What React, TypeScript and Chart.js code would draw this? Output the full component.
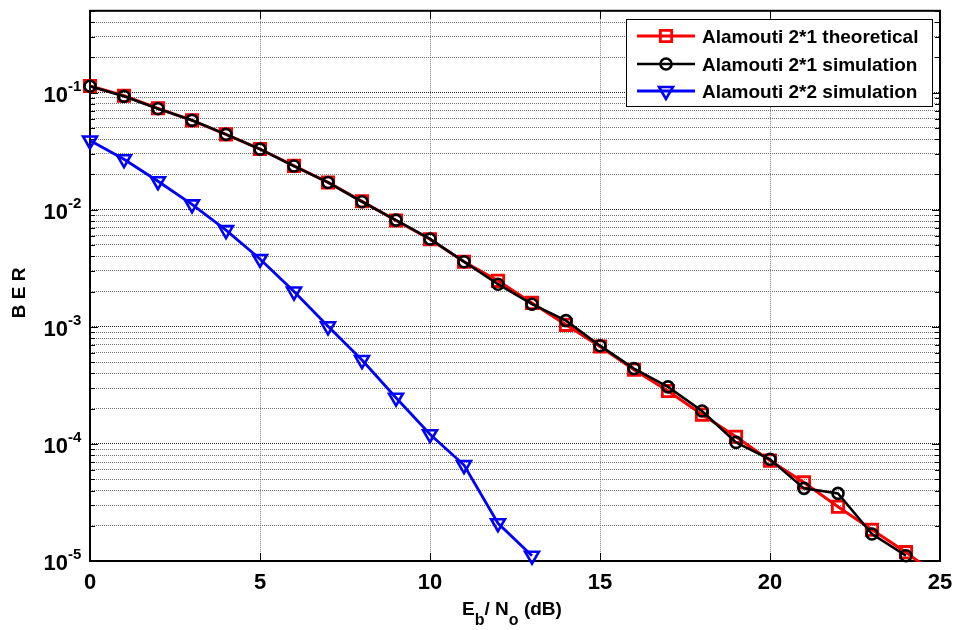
import React, { useEffect, useRef } from 'react';
import { Chart, registerables } from 'chart.js';

Chart.register(...registerables);

// ---------- data ----------
const ebnoTheory = [0, 1, 2, 3, 4, 5, 6, 7, 8, 9, 10, 11, 12, 13, 14, 15, 16, 17, 18, 19, 20, 21, 22, 23, 24, 25];
const berTheory = [0.114, 0.094, 0.0735, 0.058, 0.044, 0.033, 0.0237, 0.0171, 0.0118, 0.0081, 0.0056, 0.0036, 0.00247, 0.0016, 0.00104, 0.00068, 0.00043, 0.000283, 0.000178, 0.000115, 0.000072, 0.0000469, 0.0000291, 0.0000185, 0.0000119, 0.0000072];

const ebnoSim21 = [0, 1, 2, 3, 4, 5, 6, 7, 8, 9, 10, 11, 12, 13, 14, 15, 16, 17, 18, 19, 20, 21, 22, 23, 24];
const berSim21 = [0.1135, 0.093, 0.0728, 0.058, 0.044, 0.0329, 0.0236, 0.0171, 0.0117, 0.00815, 0.00563, 0.0036, 0.00231, 0.00156, 0.00113, 0.00069, 0.00044, 0.000307, 0.000191, 0.000103, 0.000074, 0.0000417, 0.0000378, 0.000017, 0.0000111];

const ebnoSim22 = [0, 1, 2, 3, 4, 5, 6, 7, 8, 9, 10, 11, 12, 13];
const berSim22 = [0.039, 0.027, 0.0175, 0.0111, 0.0067, 0.0038, 0.002, 0.00101, 0.00052, 0.000248, 0.000121, 0.000066, 0.000021, 0.0000111];

const seriesNames = ['Alamouti 2*1 theoretical', 'Alamouti 2*1 simulation', 'Alamouti 2*2 simulation'];
const seriesColors = ['#ff0000', '#000000', '#0000ff'];

const xTickValues = [0, 5, 10, 15, 20, 25];
const yDecades = [1e-5, 1e-4, 1e-3, 1e-2, 1e-1];
const yDecadeExponents = ['-5', '-4', '-3', '-2', '-1'];
const xMin = 0;
const xMax = 25;
const yMin = 1e-5;
const yMax = 0.5;

const yTitle = 'B E R';
const xTitleParts = [
  { text: 'E', sub: false },
  { text: 'b', sub: true },
  { text: '/ N', sub: false },
  { text: 'o', sub: true },
  { text: ' (dB)', sub: false },
];

const FONT = '"Liberation Sans", Arial, Helvetica, sans-serif';

const isDecade = (v: number) => Math.abs(Math.log10(v) - Math.round(Math.log10(v))) < 1e-9;

const markerStyles = ['rect', 'circle', 'triangle'];
const markerRadii = [8, 5.5, 8];
const markerBorders = [2.8, 2.6, 2.6];
const lineWidths = [3, 2.6, 2.8];

function drawMarker(ctx: CanvasRenderingContext2D, style: string, x: number, y: number, r: number, color: string, lw: number) {
  ctx.save();
  ctx.strokeStyle = color;
  ctx.lineWidth = lw;
  ctx.beginPath();
  if (style === 'rect') {
    const s = r * Math.SQRT1_2;
    ctx.rect(x - s, y - s, 2 * s, 2 * s);
  } else if (style === 'circle') {
    ctx.arc(x, y, r, 0, Math.PI * 2);
  } else {
    for (let i = 0; i < 3; i++) {
      const ang = Math.PI + (i * 2 * Math.PI) / 3;
      const px = x + Math.sin(ang) * r;
      const py = y - Math.cos(ang) * r;
      if (i === 0) ctx.moveTo(px, py);
      else ctx.lineTo(px, py);
    }
    ctx.closePath();
  }
  ctx.stroke();
  ctx.restore();
}

const matlabPlugin = {
  id: 'matlabDecor',
  beforeDatasetsDraw(chart: any) {
    const { ctx, chartArea: a, scales } = chart;
    const xs = scales.x;
    const ys = scales.y;
    ctx.save();
    ctx.strokeStyle = '#000';
    ctx.lineWidth = 1;
    ctx.beginPath();
    for (const t of ys.ticks) {
      const py = Math.round(ys.getPixelForValue(t.value)) + 0.5;
      const len = isDecade(t.value) ? 8 : 5;
      ctx.moveTo(a.left, py);
      ctx.lineTo(a.left + len, py);
      ctx.moveTo(a.right - len, py);
      ctx.lineTo(a.right, py);
    }
    for (const v of xTickValues) {
      const px = Math.round(xs.getPixelForValue(v)) + 0.5;
      ctx.moveTo(px, a.bottom);
      ctx.lineTo(px, a.bottom - 8);
      ctx.moveTo(px, a.top);
      ctx.lineTo(px, a.top + 8);
    }
    ctx.stroke();
    ctx.lineWidth = 2;
    ctx.strokeRect(a.left, a.top, a.right - a.left, a.bottom - a.top);
    ctx.restore();
  },
  afterDraw(chart: any) {
    const { ctx, chartArea: a, scales } = chart;
    const xs = scales.x;
    const ys = scales.y;
    ctx.save();
    ctx.fillStyle = '#000';

    // y tick labels 10^k
    yDecades.forEach((d, i) => {
      const py = ys.getPixelForValue(d);
      ctx.font = `bold 22px ${FONT}`;
      ctx.textAlign = 'right';
      ctx.textBaseline = 'alphabetic';
      ctx.fillText('10', 68, py + 9);
      ctx.font = `bold 15px ${FONT}`;
      ctx.textAlign = 'left';
      ctx.fillText(yDecadeExponents[i], 68, py - 2);
    });

    // x tick labels
    ctx.font = `bold 22px ${FONT}`;
    ctx.textAlign = 'center';
    ctx.textBaseline = 'alphabetic';
    xTickValues.forEach((v) => {
      ctx.fillText(String(v), xs.getPixelForValue(v), 589);
    });

    // y title
    ctx.save();
    ctx.translate(25, (a.top + a.bottom) / 2 + 7);
    ctx.rotate(-Math.PI / 2);
    ctx.font = `bold 19px ${FONT}`;
    ctx.textAlign = 'center';
    ctx.textBaseline = 'alphabetic';
    ctx.fillText(yTitle, 0, 0);
    ctx.restore();

    // x title with subscripts
    const mainFont = `bold 19px ${FONT}`;
    const subFont = `bold 16px ${FONT}`;
    let total = 0;
    const widths = xTitleParts.map((p) => {
      ctx.font = p.sub ? subFont : mainFont;
      const w = ctx.measureText(p.text).width;
      total += w;
      return w;
    });
    let cx = (a.left + a.right) / 2 - total / 2 - 3;
    ctx.textAlign = 'left';
    xTitleParts.forEach((p, i) => {
      ctx.font = p.sub ? subFont : mainFont;
      ctx.fillText(p.text, cx, p.sub ? 625 : 615);
      cx += widths[i];
    });

    // legend
    const lx = 626.5, ly = 19.5, lw = 306, lh = 87;
    ctx.fillStyle = '#fff';
    ctx.fillRect(lx, ly, lw, lh);
    ctx.strokeStyle = '#000';
    ctx.lineWidth = 1;
    ctx.strokeRect(lx, ly, lw, lh);
    const rowY = [36, 64, 91];
    seriesNames.forEach((name, i) => {
      const y = rowY[i];
      ctx.strokeStyle = seriesColors[i];
      ctx.lineWidth = lineWidths[i];
      ctx.beginPath();
      ctx.moveTo(637, y);
      ctx.lineTo(695, y);
      ctx.stroke();
      drawMarker(ctx, markerStyles[i], 666, y, markerRadii[i], seriesColors[i], markerBorders[i]);
      ctx.fillStyle = '#000';
      ctx.font = `bold 19px ${FONT}`;
      ctx.textAlign = 'left';
      ctx.textBaseline = 'alphabetic';
      ctx.fillText(name, 702, y + 7);
    });
    ctx.restore();
  },
};

export default function App() {
  const canvasRef = useRef<HTMLCanvasElement | null>(null);

  useEffect(() => {
    if (!canvasRef.current) return;
    const toPts = (xs: number[], ys: number[]) => xs.map((x, i) => ({ x, y: ys[i] }));
    const chart = new Chart(canvasRef.current, {
      type: 'line',
      data: {
        datasets: [
          {
            label: seriesNames[1],
            data: toPts(ebnoSim21, berSim21),
            borderColor: seriesColors[1],
            backgroundColor: 'rgba(0,0,0,0)',
            borderWidth: lineWidths[1],
            pointStyle: 'circle',
            pointRadius: markerRadii[1],
            pointBorderWidth: markerBorders[1],
            pointBorderColor: seriesColors[1],
            pointBackgroundColor: 'rgba(0,0,0,0)',
            tension: 0,
            clip: false,
            order: 2,
          },
          {
            label: seriesNames[0],
            data: toPts(ebnoTheory, berTheory),
            borderColor: seriesColors[0],
            backgroundColor: 'rgba(0,0,0,0)',
            borderWidth: lineWidths[0],
            pointStyle: 'rect',
            pointRadius: markerRadii[0],
            pointBorderWidth: markerBorders[0],
            pointBorderColor: seriesColors[0],
            pointBackgroundColor: 'rgba(0,0,0,0)',
            tension: 0,
            clip: { left: 12, right: 0, top: 0, bottom: 1 },
            order: 3,
          },
          {
            label: seriesNames[2],
            data: toPts(ebnoSim22, berSim22),
            borderColor: seriesColors[2],
            backgroundColor: 'rgba(0,0,0,0)',
            borderWidth: lineWidths[2],
            pointStyle: 'triangle',
            pointRotation: 180,
            pointRadius: markerRadii[2],
            pointBorderWidth: markerBorders[2],
            pointBorderColor: seriesColors[2],
            pointBackgroundColor: 'rgba(0,0,0,0)',
            tension: 0,
            clip: false,
            order: 1,
          },
        ] as any,
      },
      options: {
        responsive: false,
        animation: false,
        devicePixelRatio: 1,
        events: [],
        layout: { padding: { top: 10, right: 17, left: 0, bottom: 0 } },
        plugins: {
          legend: { display: false },
          tooltip: { enabled: false },
          title: { display: false },
        },
        scales: {
          x: {
            type: 'linear',
            min: xMin,
            max: xMax,
            afterBuildTicks: (scale: any) => {
              scale.ticks = xTickValues.map((v) => ({ value: v }));
            },
            afterFit: (scale: any) => {
              scale.height = 69;
            },
            ticks: { display: false },
            grid: { color: '#808080', lineWidth: 1, drawTicks: false },
            border: { display: false, dash: [1, 1] },
          },
          y: {
            type: 'logarithmic',
            min: yMin,
            max: yMax,
            afterBuildTicks: (scale: any) => {
              const ticks: { value: number }[] = [];
              yDecades.forEach((d) => {
                for (let m = 1; m <= 9; m++) {
                  const v = m * d;
                  if (v <= yMax * 1.0000001) ticks.push({ value: v });
                }
              });
              scale.ticks = ticks;
            },
            afterFit: (scale: any) => {
              scale.width = 90;
            },
            ticks: { display: false },
            grid: {
              color: (c: any) => (c.tick && isDecade(c.tick.value) ? '#1a1a1a' : '#707070'),
              lineWidth: 1,
              drawTicks: false,
            },
            border: { display: false, dash: [1, 1] },
          },
        },
      } as any,
      plugins: [matlabPlugin],
    });
    return () => chart.destroy();
  }, []);

  return (
    <div style={{ position: 'absolute', left: 0, top: 0, width: 957, height: 630, background: '#fff' }}>
      <canvas ref={canvasRef} width={957} height={630} style={{ display: 'block' }} />
    </div>
  );
}
